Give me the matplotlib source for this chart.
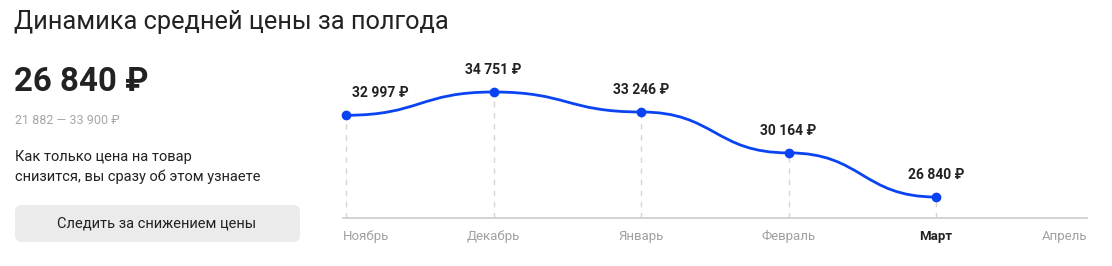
import matplotlib
matplotlib.use("Agg")
import matplotlib.pyplot as plt
from matplotlib.path import Path
from matplotlib.patches import PathPatch, FancyBboxPatch

plt.rcParams['font.family'] = ['Roboto', 'DejaVu Sans']

# data
months = ["Ноябрь", "Декабрь", "Январь", "Февраль", "Март", "Апрель"]
prices = [32997, 34751, 33246, 30164, 26840]
price_labels = ["32 997 ₽", "34 751 ₽", "33 246 ₽", "30 164 ₽", "26 840 ₽"]
current_month = "Март"

title = "Динамика средней цены за полгода"
current_price = "26 840 ₽"
price_range = "21 882 — 33 900 ₽"
note = "Как только цена на товар\nснизится, вы сразу об этом узнаете"
button_text = "Следить за снижением цены"

BLUE = "#0a44f2"
W, H = 1112, 266

fig = plt.figure(figsize=(W / 100, H / 100), dpi=100)
fig.patch.set_facecolor("white")

def fx(px):
    return px / W

def fy(py):
    return 1 - py / H

# left panel
fig.text(fx(14), fy(22), title, fontsize=18.3, color="#222222", va="center", ha="left")
fig.text(fx(14), fy(82), current_price, fontsize=23.8, fontweight="bold", color="#222222",
         va="center", ha="left")
fig.text(fx(15), fy(120), price_range, fontsize=9, color="#a6a6a6", va="center", ha="left")
fig.text(fx(15), fy(167), note, fontsize=10.5, color="#222222", va="center", ha="left",
         linespacing=1.55)

btn = FancyBboxPatch((fx(15), fy(242)), fx(285), 37 / H,
                     boxstyle="round,pad=0,rounding_size=0.006",
                     mutation_aspect=W / H,
                     transform=fig.transFigure, facecolor="#ebebeb", edgecolor="none")
fig.patches.append(btn)
fig.text(fx(157), fy(224), button_text, fontsize=10.5, color="#222222", va="center", ha="center")

# chart axes
left_px, right_px, top_px, bottom_px = 343, 1087, 60, 218
ax = fig.add_axes([fx(left_px), fy(bottom_px), (right_px - left_px) / W, (bottom_px - top_px) / H])
ax.set_facecolor("none")
step = 147.5
ax.set_xlim(-(346 - left_px) / step, len(months) - 1 + (right_px - 346 - (len(months) - 1) * step) / step)
per_px = (prices[1] - prices[4]) / (197 - 92)
ax.set_ylim(prices[4] - (bottom_px - 197) * per_px, prices[4] + (197 - top_px) * per_px)
for s in ax.spines.values():
    s.set_visible(False)
ax.set_xticks([])
ax.set_yticks([])
ax.axhline(ax.get_ylim()[0], color="#cccccc", lw=1.2, clip_on=False)

xs = list(range(len(prices)))

# dashed drop lines
for x, y in zip(xs, prices):
    ax.plot([x, x], [ax.get_ylim()[0], y], color="#d6d6d6", lw=1, ls=(0, (4, 4)), zorder=1)

# smooth curve (horizontal bezier between points)
verts = [(xs[0], prices[0])]
codes = [Path.MOVETO]
for i in range(len(xs) - 1):
    xm = (xs[i] + xs[i + 1]) / 2
    verts += [(xm, prices[i]), (xm, prices[i + 1]), (xs[i + 1], prices[i + 1])]
    codes += [Path.CURVE4] * 3
ax.add_patch(PathPatch(Path(verts, codes), facecolor="none", edgecolor=BLUE, lw=2, zorder=3,
                       clip_on=False))
ax.plot(xs, prices, "o", color=BLUE, ms=6, zorder=4, clip_on=False)

# value labels
for i, (x, y, lab) in enumerate(zip(xs, prices, price_labels)):
    if i == 0:
        ax.annotate(lab, (x, y), xytext=(4, 16), textcoords="offset points", ha="left",
                    va="center", fontsize=10, fontweight="bold", color="#222222")
    else:
        ax.annotate(lab, (x, y), xytext=(0, 16), textcoords="offset points", ha="center",
                    va="center", fontsize=10, fontweight="bold", color="#222222")

# month labels
ybase = ax.get_ylim()[0]
for i, m in enumerate(months):
    ha = "left" if i == 0 else ("right" if i == len(months) - 1 else "center")
    x = ax.get_xlim()[0] if i == 0 else (ax.get_xlim()[1] if i == len(months) - 1 else i)
    bold = m == current_month
    ax.annotate(m, (x, ybase), xytext=(0, -13), textcoords="offset points", ha=ha, va="center",
                fontsize=9.5, color="#222222" if bold else "#a0a0a0",
                fontweight="bold" if bold else "normal", annotation_clip=False)

fig.savefig("out.png", dpi=100, facecolor="white")
